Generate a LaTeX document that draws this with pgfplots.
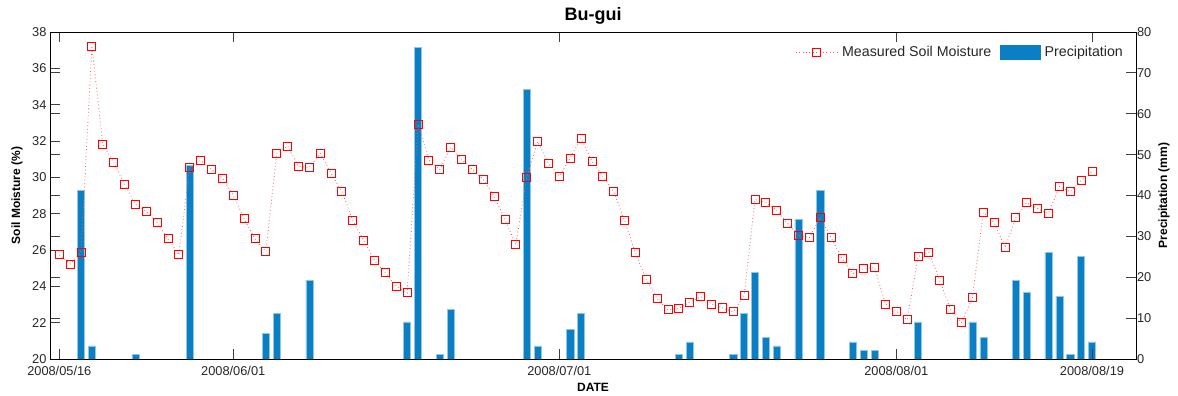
\documentclass[border=0pt]{standalone}
\usepackage{pgfplots}
\usepackage{pgfplotstable}
\pgfplotsset{compat=1.18}
\usepackage{fontspec}
\setmainfont{Liberation Sans}
\definecolor{barblue}{RGB}{10,127,196}
\definecolor{mred}{RGB}{255,0,0}
\definecolor{lred}{RGB}{255,90,90}

\pgfplotstableread{
day soil
0 25.73
1 25.23
2 25.86
3 37.23
4 31.83
5 30.84
6 29.63
7 28.52
8 28.12
9 27.51
10 26.61
11 25.73
12 30.54
13 30.93
14 30.43
15 29.96
16 29.02
17 27.73
18 26.61
19 25.91
20 31.33
21 31.72
22 30.60
23 30.54
24 31.31
25 30.21
26 29.22
27 27.62
28 26.52
29 25.42
30 24.74
31 24.02
32 23.64
33 32.93
34 30.95
35 30.43
36 31.66
37 31.00
38 30.43
39 29.88
40 28.96
41 27.68
42 26.30
43 29.99
44 31.97
45 30.76
46 30.07
47 31.06
48 32.14
49 30.89
50 30.07
51 29.22
52 27.62
53 25.84
54 24.37
55 23.31
56 22.70
57 22.77
58 23.14
59 23.43
60 23.03
61 22.81
62 22.59
63 23.49
64 28.78
65 28.61
66 28.17
67 27.45
68 26.79
69 26.68
70 27.79
71 26.70
72 25.53
73 24.70
74 24.98
75 25.03
76 23.03
77 22.64
78 22.15
79 25.64
80 25.86
81 24.31
82 22.72
83 22.00
84 23.38
85 28.06
86 27.51
87 26.13
88 27.79
89 28.60
90 28.28
91 28.01
92 29.49
93 29.20
94 29.82
95 30.32
}\soildata

\pgfplotstableread{
day rain
2 41.3
3 3.2
7 1.2
12 47.3
19 6.2
20 11.1
23 19.3
32 9.1
33 76.2
35 1.2
36 12.2
43 66.0
44 3.2
47 7.2
48 11.1
57 1.2
58 4.2
62 1.2
63 11.1
64 21.2
65 5.2
66 3.2
68 34.2
70 41.3
73 4.2
74 2.2
75 2.2
79 9.1
84 9.1
85 5.2
88 19.3
89 16.3
91 26.1
92 15.3
93 1.2
94 25.1
95 4.2
}\raindata

\pgfplotsset{
  soillegend/.style={legend image code/.code={%
    \draw[lred, line width=0.8pt, dash pattern=on 0.8pt off 2.6pt] (0pt,0pt) -- (42pt,0pt);
    \draw[mred, line width=0.9pt] (17pt,-4pt) rectangle (25pt,4pt);}},
  barlegend/.style={legend image code/.code={\fill[barblue] (0pt,-7pt) rectangle (40pt,7pt);}},
}

\begin{document}
\begin{tikzpicture}
\useasboundingbox (-50pt,-37pt) rectangle (1128pt,359pt);
\pgfplotsset{
  base/.style={
    scale only axis, width=1086pt, height=327pt,
    at={(0pt,0pt)}, anchor=south west,
    xmin=-0.856, xmax=99.05,
    axis line style={line width=0.8pt, black},
    major tick length=10pt,
    every tick/.style={black!75, line width=0.8pt},
    /pgf/number format/assume math mode=true,
    tick label style={font=\fontsize{12.8}{14}\selectfont, text=black!85},
  }
}
\begin{axis}[base,
  ymin=0, ymax=80, ytick={0,10,...,80},
  yticklabel pos=right, ytick pos=both,
  yticklabel style={xshift=-2.5pt},
  xtick=\empty,
  ylabel={Precipitation (mm)},
  every axis y label/.style={at={(axis description cs:1.0258,0.5)}, rotate=90, anchor=center, font=\bfseries\fontsize{12}{14}\selectfont},
]
\addplot[ybar, bar width=0.65, fill=barblue, draw=barblue!45!white, line width=0.5pt]
  table[x=day, y=rain] {\raindata};
\end{axis}
\begin{axis}[base,
  ymin=20, ymax=38, ytick={20,22,...,38}, ytick pos=left,
  xtick={0,16,46,77,95},
  xticklabels={2008/05/16,2008/06/01,2008/07/01,2008/08/01,2008/08/19},
  xtick pos=both,
  xticklabel style={yshift=-3.5pt},
  xlabel={DATE},
  every axis x label/.style={at={(axis description cs:0.5,-0.0869)}, anchor=center, font=\bfseries\fontsize{12}{14}\selectfont},
  ylabel={Soil Moisture (\%)},
  every axis y label/.style={at={(axis description cs:-0.0304,0.5)}, rotate=90, anchor=center, font=\bfseries\fontsize{12}{14}\selectfont},
  title={Bu-gui},
  every axis title/.style={font=\bfseries\fontsize{18}{20}\selectfont, at={(axis description cs:0.5,1.0486)}, anchor=center},
  legend columns=2,
  legend style={draw=none, fill=none, inner sep=0pt,
    at={(axis description cs:0.9899,0.937)}, anchor=east,
    font=\fontsize{14.2}{16}\selectfont,
    nodes={inner sep=2pt, text=black!85},
    /tikz/every odd column/.append style={column sep=2pt},
    /tikz/every even column/.append style={column sep=7pt}},
]
\addplot[forget plot, lred, line width=0.8pt, dash pattern=on 0.8pt off 2.6pt, mark=none]
  table[x=day, y=soil] {\soildata};
\addplot[forget plot, only marks, mred, mark=square, mark size=4pt, line width=0.9pt]
  table[x=day, y=soil] {\soildata};
\addlegendimage{soillegend}
\addlegendentry{Measured Soil Moisture}
\addlegendimage{barlegend}
\addlegendentry{Precipitation}
\end{axis}
\end{tikzpicture}
\end{document}
